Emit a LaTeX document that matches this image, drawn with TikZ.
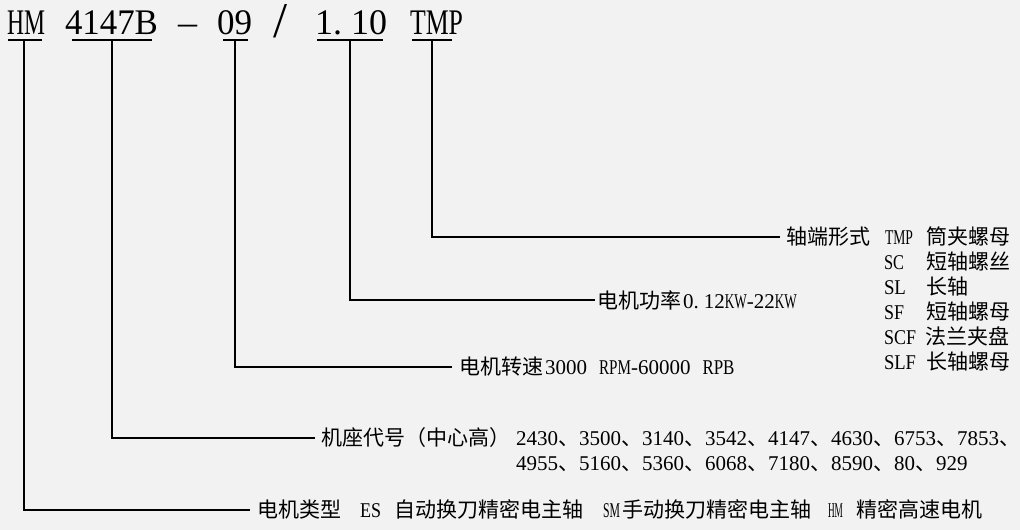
\documentclass[tikz,border=0pt]{standalone}
\usepackage{fontspec}
\usepackage{graphicx}
\setmainfont{Liberation Serif}
\newfontfamily\cjk{Noto Sans CJK SC}
\newcommand\fitw[2]{\resizebox{#1pt}{\height}{#2}}
\newcommand\dun{{\cjk 、}}
\definecolor{bgc}{RGB}{242,242,242}
\begin{document}
\begin{tikzpicture}[x=1pt,y=-1pt,
  every node/.style={inner sep=0pt, outer sep=0pt, text=black},
  title/.style={anchor=base west, font=\fontsize{36}{42}\selectfont},
  lab/.style={anchor=west, inner ysep=0pt, font=\cjk\fontsize{21}{25}\selectfont},
  txt/.style={anchor=base west, font=\fontsize{21}{25}\selectfont},
  ch/.style={anchor=base west, font=\cjk\fontsize{21}{25}\selectfont},
  conn/.style={draw=black, line width=2pt, line join=miter}]
\fill[bgc] (0,0) rectangle (1020,530);
\useasboundingbox (0,0) rectangle (1020,530);

% title
\node[title] (tHM) at (7,34) {\fitw{38}{HM}};
\node[title] (tnum) at (65,34) {\fitw{93}{4147B}};
\node[title] (tdash) at (178,34) {\fitw{19}{–}};
\node[title] (tnine) at (217,34) {\fitw{35}{09}};
\node[title] (tslash) at (273,34) {\raisebox{-4pt}{\resizebox{14pt}{33pt}{/}}};
\node[title] (tpow) at (315,34) {\fitw{72}{1.\kern9pt 10}};
\node[title] (tTMP) at (410,34) {\fitw{53}{TMP}};

% underlines and connector starts
\coordinate (u1) at (24,40);
\coordinate (u2) at (112,40);
\coordinate (u3) at (235,40);
\coordinate (u4) at (350,40);
\coordinate (u5) at (432,40);
\draw[conn] (8,40) -- (42,40);
\draw[conn] (72,40) -- (152,40);
\draw[conn] (223,40) -- (248,40);
\draw[conn] (317,40) -- (383,40);
\draw[conn] (412,40) -- (452,40);

% labels
\node[lab, inner xsep=7pt] (l1) at (250,510) {电机类型};
\node[lab, inner xsep=6pt] (l2) at (315,438) {机座代号（中心高）};
\node[lab, inner xsep=7pt] (l3) at (452,367) {电机转速};
\node[lab, inner xsep=2pt] (l4) at (595,300) {电机功率};
\node[lab, inner xsep=6pt] (l5) at (780,237) {轴端形式};

% connectors
\draw[conn] (u1) |- (l1.west);
\draw[conn] (u2) |- (l2.west);
\draw[conn] (u3) |- (l3.west);
\draw[conn] (u4) |- (l4.west);
\draw[conn] (u5) |- (l5.west);

% line A: motor type
\node[txt] (aES) at (360,0 |- l1.base) {\fitw{21}{ES}};
\node[ch] (aES2) at (394,0 |- l1.base) {自动换刀精密电主轴};
\node[txt] (aSM) at (603,0 |- l1.base) {\fitw{17}{SM}};
\node[ch] (aSM2) at (622,0 |- l1.base) {手动换刀精密电主轴};
\node[txt] (aHM) at (828,0 |- l1.base) {\fitw{15}{HM}};
\node[ch] (aHM2) at (856,0 |- l1.base) {精密高速电机};

% line B: frame sizes
\node[txt] (bn1) at (516,0 |- l2.base) {2430\dun3500\dun3140\dun3542\dun4147\dun4630\dun6753\dun7853\dun};
\node[txt, yshift=-25pt] (bn2) at (516,0 |- l2.base) {4955\dun5160\dun5360\dun6068\dun7180\dun8590\dun80\dun929};

% line C: speed
\node[txt] (cs) at (545,0 |- l3.base) {3000\kern12pt\fitw{32}{RPM}-60000\kern12pt\fitw{32}{RPB}};

% line D: power
\node[txt] (dp) at (683,0 |- l4.base) {0.\kern5pt 12\fitw{22}{KW}-22\fitw{22}{KW}};

% line E: shaft end types
\node[txt] (e1) at (885,0 |- l5.base) {\fitw{28}{TMP}};
\node[ch] (e1c) at (926,0 |- l5.base) {筒夹螺母};
\node[txt, yshift=-25pt] (e2) at (884,0 |- l5.base) {\fitw{20}{SC}};
\node[ch, yshift=-25pt] (e2c) at (926,0 |- l5.base) {短轴螺丝};
\node[txt, yshift=-50pt] (e3) at (884,0 |- l5.base) {\fitw{22}{SL}};
\node[ch, yshift=-50pt] (e3c) at (926,0 |- l5.base) {长轴};
\node[txt, yshift=-75pt] (e4) at (884,0 |- l5.base) {\fitw{20}{SF}};
\node[ch, yshift=-75pt] (e4c) at (926,0 |- l5.base) {短轴螺母};
\node[txt, yshift=-100pt] (e5) at (884,0 |- l5.base) {\fitw{32}{SCF}};
\node[ch, yshift=-100pt] (e5c) at (925,0 |- l5.base) {法兰夹盘};
\node[txt, yshift=-125pt] (e6) at (884,0 |- l5.base) {\fitw{32}{SLF}};
\node[ch, yshift=-125pt] (e6c) at (926,0 |- l5.base) {长轴螺母};
\end{tikzpicture}
\end{document}
